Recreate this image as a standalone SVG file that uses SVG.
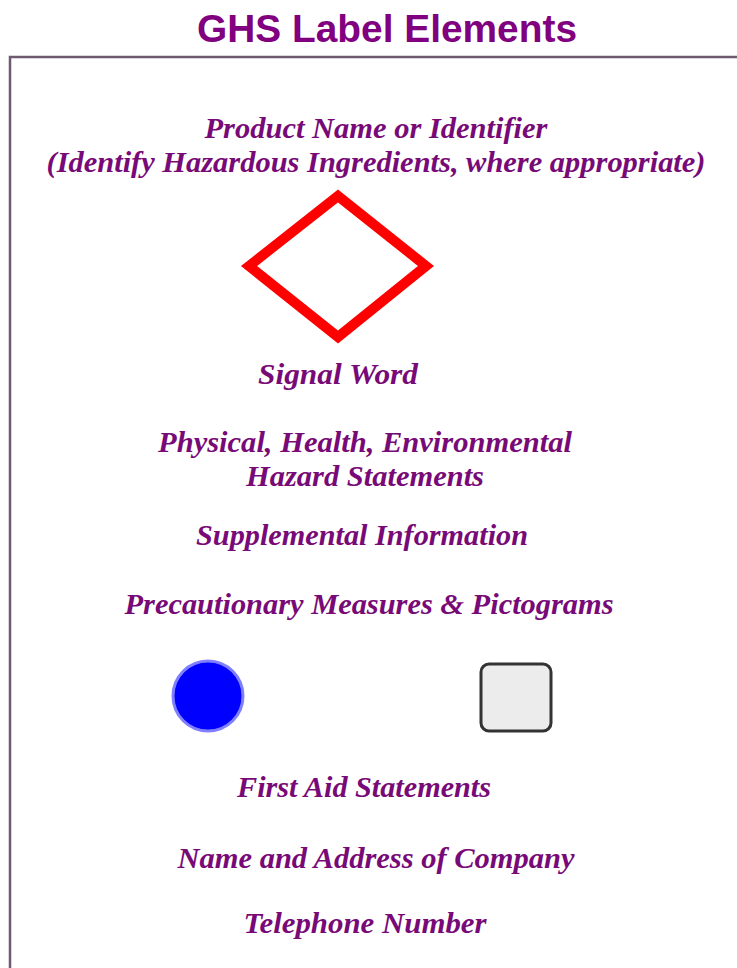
<svg xmlns="http://www.w3.org/2000/svg" width="737" height="968" viewBox="0 0 737 968">
<style>
.t{font-family:"Liberation Serif","Times New Roman",serif;font-weight:bold;font-style:italic;font-size:29px;fill:#780a78;text-anchor:middle}
.title{font-family:"Liberation Sans",Arial,sans-serif;font-weight:bold;font-size:38px;fill:#800080;text-anchor:middle}
</style>
<rect width="737" height="968" fill="#ffffff"/>
<g id="title"><text class="title" x="387" y="42" textLength="380" lengthAdjust="spacingAndGlyphs">GHS Label Elements</text></g>
<g id="frame"><path d="M10,968 V57 H737" fill="none" stroke="#6e5a6e" stroke-width="2.5"/></g>
<g id="product"><text class="t" x="376" y="138" textLength="343" lengthAdjust="spacingAndGlyphs">Product Name or Identifier</text>
<text class="t" x="376" y="172" textLength="659" lengthAdjust="spacingAndGlyphs">(Identify Hazardous Ingredients, where appropriate)</text></g>
<g id="diamond"><polygon points="338,196 426,266 338,337 249,266" fill="#ffffff" stroke="#ff0000" stroke-width="10" stroke-linejoin="miter"/></g>
<g id="signal"><text class="t" x="338" y="384" textLength="160" lengthAdjust="spacingAndGlyphs">Signal Word</text></g>
<g id="hazard"><text class="t" x="365" y="452" textLength="414" lengthAdjust="spacingAndGlyphs">Physical, Health, Environmental</text>
<text class="t" x="365" y="486" textLength="238" lengthAdjust="spacingAndGlyphs">Hazard Statements</text></g>
<g id="supplemental"><text class="t" x="362" y="545" textLength="332" lengthAdjust="spacingAndGlyphs">Supplemental Information</text></g>
<g id="precautionary"><text class="t" x="369" y="614" textLength="489" lengthAdjust="spacingAndGlyphs">Precautionary Measures &amp; Pictograms</text></g>
<g id="circle"><circle cx="208" cy="696" r="35" fill="#0000ff" stroke="#8080ff" stroke-width="3"/></g>
<g id="square"><rect x="481" y="664" width="70" height="67" rx="8" fill="#ececec" stroke="#333333" stroke-width="3"/></g>
<g id="firstaid"><text class="t" x="364" y="797" textLength="254" lengthAdjust="spacingAndGlyphs">First Aid Statements</text></g>
<g id="company"><text class="t" x="376" y="868" textLength="397" lengthAdjust="spacingAndGlyphs">Name and Address of Company</text></g>
<g id="telephone"><text class="t" x="365" y="933" textLength="243" lengthAdjust="spacingAndGlyphs">Telephone Number</text></g>
</svg>
